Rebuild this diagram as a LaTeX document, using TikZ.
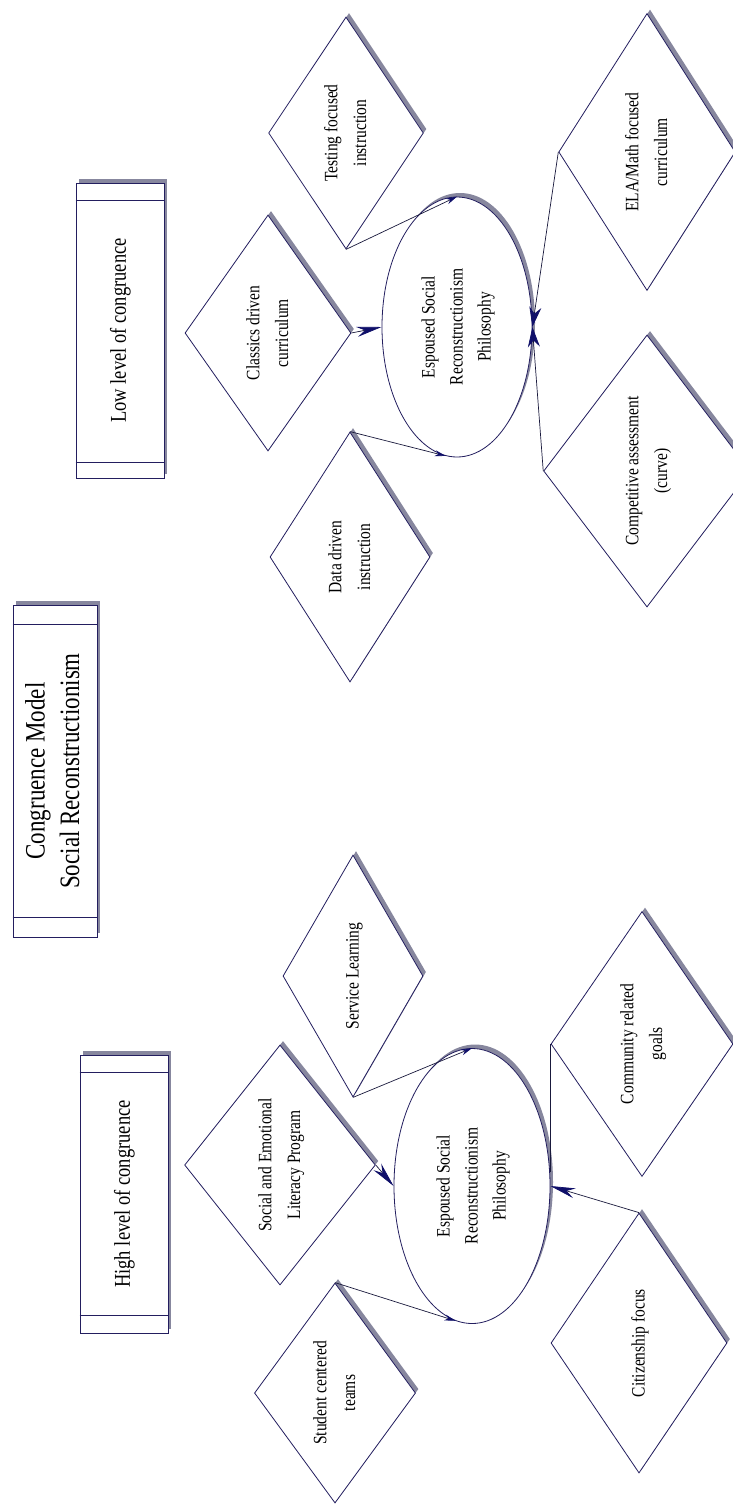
\documentclass[tikz,border=0pt]{standalone}
\usepackage{fontspec}
\setmainfont{Liberation Serif}
\usepackage{graphicx}
\usetikzlibrary{shapes.geometric, arrows.meta, shadows, calc}
\definecolor{cmnavy}{RGB}{35, 30, 95}
\definecolor{cmline}{RGB}{25, 25, 60}
\definecolor{cmtip}{RGB}{15, 15, 105}
\definecolor{cmshade}{RGB}{135, 135, 158}
% text set bottom-to-top, as in the figure
\newcommand{\sidetext}[1]{\rotatebox{90}{\scalebox{1}[1.22]{\begin{tabular}{@{}c@{}}#1\end{tabular}}}}
\tikzset{
  casting/.style={drop shadow={shadow xshift=3pt, shadow yshift=4pt, fill=cmshade, opacity=1}},
  banner/.style={rectangle, draw=cmnavy, fill=white, line width=0.9pt, casting, inner sep=0pt,
                 font=\fontsize{18.5}{24}\selectfont},
  practice/.style={diamond, draw=cmnavy, fill=white, line width=0.8pt, casting, inner sep=0pt,
                   font=\fontsize{15.5}{23.5}\selectfont},
  philosophy/.style={ellipse, draw=cmnavy, fill=white, line width=0.8pt, casting, inner sep=0pt,
                     font=\fontsize{15.5}{23}\selectfont},
  bandline/.style={draw=cmnavy, line width=0.9pt},
  thinarrow/.style={-{Stealth[length=11pt, width=6pt, color=cmtip]}, cmline, line width=0.7pt},
  midarrow/.style={-{Stealth[length=20pt, width=12pt, color=cmtip]}, cmline, line width=0.7pt},
  bigarrow/.style={-{Stealth[length=25pt, width=10pt, color=cmtip]}, cmline, line width=0.7pt},
}
\begin{document}
\begin{tikzpicture}[x=1pt, y=-1pt]
  \path[use as bounding box, fill=white] (0,0) rectangle (732,1504);

  % title and the two levels
  \node[banner, minimum width=84pt, minimum height=332pt, font=\fontsize{23}{28.3}\selectfont]
       (title) at (55,771) {\sidetext{Congruence Model\\Social Reconstructionism}};
  \node[banner, minimum width=88pt, minimum height=295pt] (lowbox) at (120,330.5)
       {\sidetext{Low level of congruence}};
  \node[banner, minimum width=88pt, minimum height=278pt] (highbox) at (124,1194)
       {\sidetext{High level of congruence}};
  \draw[bandline] ([yshift=-20pt]title.north west) -- ([yshift=-20pt]title.north east);
  \draw[bandline] ([yshift=20pt]title.south west) -- ([yshift=20pt]title.south east);
  \draw[bandline] ([yshift=-18pt]lowbox.north west) -- ([yshift=-18pt]lowbox.north east);
  \draw[bandline] ([yshift=16pt]lowbox.south west) -- ([yshift=16pt]lowbox.south east);
  \draw[bandline] ([yshift=-18pt]highbox.north west) -- ([yshift=-18pt]highbox.north east);
  \draw[bandline] ([yshift=18pt]highbox.south west) -- ([yshift=18pt]highbox.south east);

  % low congruence
  \node[philosophy, minimum width=150pt, minimum height=260pt] (lowphil) at (457,327)
       {\sidetext{Espoused Social\\Reconstructionism\\Philosophy}};
  \node[practice, minimum width=152pt, minimum height=232pt] (testing) at (346,133)
       {\sidetext{Testing focused\\instruction}};
  \node[practice, minimum width=166pt, minimum height=236pt] (classics) at (268,333)
       {\sidetext{Classics driven\\curriculum}};
  \node[practice, minimum width=160pt, minimum height=250pt] (datadriven) at (350,557)
       {\sidetext{Data driven\\instruction}};
  \node[practice, minimum width=174pt, minimum height=277pt] (elamath) at (647,152)
       {\sidetext{ELA/Math focused\\curriculum}};
  \node[practice, minimum width=176pt, minimum height=272pt] (compete) at (647,471)
       {\sidetext{Competitive assessment\\(curve)}};

  % high congruence
  \node[philosophy, minimum width=156pt, minimum height=275pt] (highphil) at (472,1186)
       {\sidetext{Espoused Social\\Reconstructionism\\Philosophy}};
  \node[practice, minimum width=140pt, minimum height=242pt] (service) at (353,976)
       {\sidetext{Service Learning}};
  \node[practice, minimum width=164pt, minimum height=240pt] (selp) at (280,1165)
       {\sidetext{Social and Emotional\\Literacy Program}};
  \node[practice, minimum width=160pt, minimum height=220pt] (student) at (335,1393)
       {\sidetext{Student centered\\teams}};
  \node[practice, minimum width=182pt, minimum height=265pt] (community) at (642,1044)
       {\sidetext{Community related\\goals}};
  \node[practice, minimum width=176pt, minimum height=260pt] (citizen) at (639,1343)
       {\sidetext{Citizenship focus}};

  % connectors
  \draw[thinarrow] (testing.south) -- (lowphil.north);
  \draw[bigarrow] (classics.east) -- (lowphil.west);
  \draw[thinarrow] (datadriven.north) -- (lowphil.265);
  \draw[midarrow] (elamath.west) -- (lowphil.east);
  \draw[midarrow] (compete.west) -- (lowphil.east);
  \draw[thinarrow] (service.south) -- (highphil.north);
  \draw[bigarrow] (selp.east) -- (highphil.west);
  \draw[thinarrow] (student.north) -- (highphil.263);
  \draw[cmline, line width=0.7pt] (community.west) -- (community.west |- highphil.10);
  \draw[bigarrow] (citizen.north) -- (highphil.east);
\end{tikzpicture}
\end{document}
